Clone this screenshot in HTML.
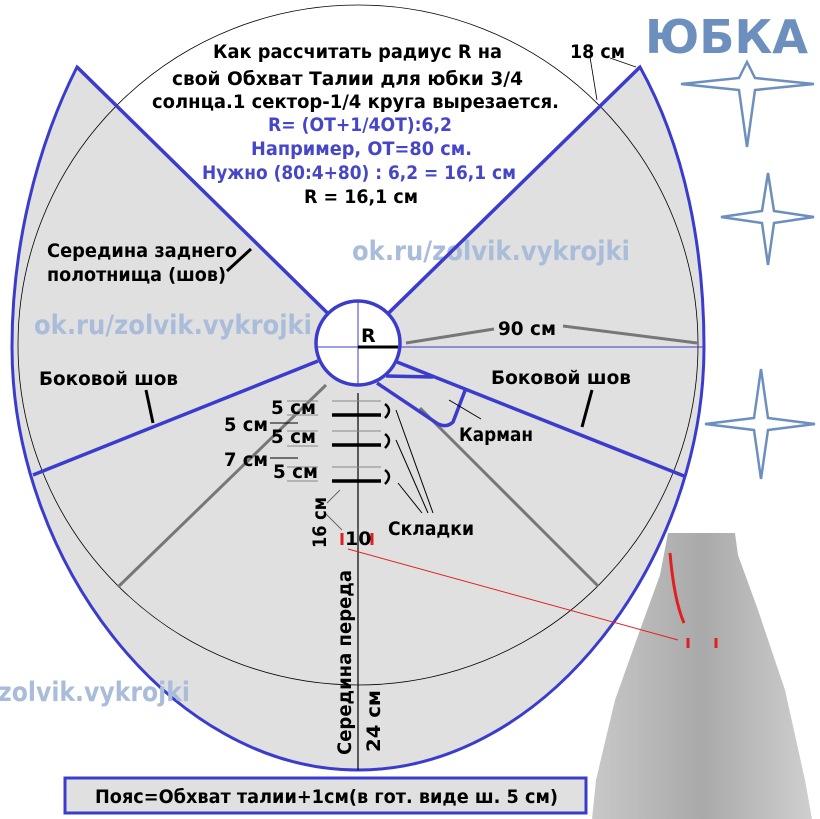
<!DOCTYPE html>
<html><head><meta charset="utf-8"><style>
body{margin:0;background:#fff}
svg{display:block;font-family:"DejaVu Sans","Liberation Sans",sans-serif;font-weight:bold}
</style></head><body>
<svg width="820" height="819" viewBox="0 0 820 819" xmlns="http://www.w3.org/2000/svg">
<defs><linearGradient id="sk" x1="0" x2="1"><stop offset="0" stop-color="#c8c8c8"/><stop offset="0.5" stop-color="#a9a9a9"/><stop offset="1" stop-color="#cfcfcf"/></linearGradient></defs>
<path d="M77,67 C35,150 12,250 12,347 C12,560 170,770 358,770 C546,770 704,560 704,347 C704,250 686,150 640,67 L358,343 Z" fill="#e0e0e0" stroke="#3c3ccc" stroke-width="3"/>
<circle cx="358" cy="345" r="340" fill="none" stroke="#000" stroke-width="0.8"/>
<g fill="#a9bcd9" font-size="27">
<text x="352" y="260" textLength="278" lengthAdjust="spacingAndGlyphs">ok.ru/zolvik.vykrojki</text>
<text x="34" y="334" textLength="278" lengthAdjust="spacingAndGlyphs">ok.ru/zolvik.vykrojki</text>
<text x="-2" y="701" textLength="192" lengthAdjust="spacingAndGlyphs">zolvik.vykrojki</text>
</g>
<g stroke="#777" stroke-width="3">
<line x1="326" y1="385" x2="118" y2="587"/>
<line x1="420" y1="408" x2="598" y2="586"/>
<line x1="406" y1="343" x2="494" y2="329"/>
<line x1="563" y1="326" x2="697" y2="343"/>
</g>
<g stroke="#3c3ccc" stroke-width="3.5" fill="none">
<line x1="358" y1="343" x2="77" y2="67"/>
<line x1="358" y1="343" x2="640" y2="67"/>
<line x1="318" y1="361" x2="33" y2="475"/>
<line x1="397" y1="362" x2="684" y2="476"/>
<path d="M386,376 L433,377 M377,383 L438,424 Q447,428 453,422 L466,388"/>
</g>
<line x1="400" y1="347" x2="704" y2="347" stroke="#3c3ccc" stroke-width="1"/>
<circle cx="358" cy="343" r="42" fill="#fff" stroke="#3c3ccc" stroke-width="3.5"/>
<line x1="316" y1="347" x2="400" y2="347" stroke="#3c3ccc" stroke-width="1"/>
<line x1="358" y1="301" x2="358" y2="385" stroke="#3c3ccc" stroke-width="1"/>
<line x1="358" y1="347" x2="398" y2="347" stroke="#000" stroke-width="3"/>
<line x1="358" y1="393" x2="358" y2="770" stroke="#000" stroke-width="1.2"/>
<g stroke="#888" stroke-width="1">
<line x1="332" y1="401" x2="381" y2="401"/><line x1="332" y1="431" x2="381" y2="431"/><line x1="332" y1="467" x2="381" y2="467"/>
<line x1="287" y1="401" x2="318" y2="401"/><line x1="287" y1="415" x2="318" y2="415"/><line x1="287" y1="431" x2="318" y2="431"/><line x1="287" y1="446" x2="318" y2="446"/><line x1="287" y1="467" x2="318" y2="467"/><line x1="287" y1="481" x2="318" y2="481"/>
</g>
<g stroke="#000" stroke-width="3.5">
<line x1="332" y1="415" x2="381" y2="415"/><line x1="332" y1="445" x2="381" y2="445"/><line x1="332" y1="481" x2="381" y2="481"/>
</g>
<g stroke="#000" stroke-width="1" fill="none">
<path d="M385,404 Q393,410 385,418 M385,434 Q393,440 385,448 M385,470 Q393,476 385,484" stroke-width="2.5"/>
<line x1="396" y1="410" x2="433" y2="513"/><line x1="396" y1="440" x2="428" y2="513"/><line x1="398" y1="483" x2="422" y2="513"/>
<line x1="270" y1="423" x2="298" y2="423"/><line x1="270" y1="458" x2="298" y2="458"/>
<line x1="449" y1="400" x2="481" y2="419"/>
<line x1="227" y1="271" x2="251" y2="249" stroke-width="3"/>
<line x1="146" y1="390" x2="153" y2="423" stroke-width="3"/>
<line x1="592" y1="390" x2="582" y2="427" stroke-width="3"/>
<line x1="340" y1="490" x2="327" y2="503" stroke="#666"/><line x1="326" y1="514" x2="342" y2="530" stroke="#666"/>
<line x1="590" y1="57" x2="597" y2="100" stroke-width="0.8"/><line x1="610" y1="58" x2="636" y2="67" stroke-width="0.8"/>
</g>
<path d="M668,533 L735,533 L738,555 L758,610 L785,690 L805,780 L812,819 L592,819 L596,780 L615,700 L640,630 L660,575 Z" fill="url(#sk)"/>
<path d="M670,553 Q674,600 684,623" stroke="#e02020" stroke-width="3" fill="none"/>
<g stroke="#e02020" stroke-width="3">
<line x1="688" y1="638" x2="688" y2="648"/><line x1="716" y1="638" x2="716" y2="648"/>
<line x1="342" y1="533" x2="342" y2="545"/><line x1="372" y1="533" x2="372" y2="545"/>
</g>
<line x1="348" y1="549" x2="678" y2="640" stroke="#e02020" stroke-width="1"/>
<g fill="none" stroke="#6d8fbe" stroke-width="2.5">
<path d="M747,62 L755,78 L814,84 L755,90 L747,147 L739,90 L681,84 L739,78 Z"/>
<path d="M768,173 L774,211 L814,217 L774,223 L768,265 L762,223 L721,217 L762,211 Z"/>
<path d="M761,369 L768,418 L815,424 L768,430 L761,479 L754,430 L705,424 L754,418 Z"/>
</g>
<text x="645" y="53" font-size="46" fill="#6d8fbe" textLength="163" lengthAdjust="spacingAndGlyphs">ЮБКА</text>
<g font-size="19">
<text x="213" y="58" textLength="289" lengthAdjust="spacingAndGlyphs">Как рассчитать радиус R на</text>
<text x="172" y="85" textLength="351" lengthAdjust="spacingAndGlyphs">свой Обхват Талии для юбки  3/4</text>
<text x="152" y="108" textLength="407" lengthAdjust="spacingAndGlyphs">солнца.1 сектор-1/4 круга вырезается.</text>
<g fill="#4646c8"><text x="268" y="131" textLength="184" lengthAdjust="spacingAndGlyphs">R= (ОТ+1/4ОТ):6,2</text>
<text x="251" y="155" textLength="221" lengthAdjust="spacingAndGlyphs">Например, ОТ=80 см.</text>
<text x="202" y="179" textLength="314" lengthAdjust="spacingAndGlyphs">Нужно (80:4+80) : 6,2 = 16,1 см</text></g>
<text x="304" y="203" textLength="114" lengthAdjust="spacingAndGlyphs">R = 16,1 см</text>
<text x="570" y="58" textLength="55" lengthAdjust="spacingAndGlyphs">18 см</text>
<text x="47" y="257" textLength="190" lengthAdjust="spacingAndGlyphs">Середина заднего</text>
<text x="47" y="281" textLength="179" lengthAdjust="spacingAndGlyphs">полотнища (шов)</text>
<text x="39" y="385" textLength="139" lengthAdjust="spacingAndGlyphs">Боковой шов</text>
<text x="491" y="384" textLength="140" lengthAdjust="spacingAndGlyphs">Боковой шов</text>
<text x="459" y="441" textLength="74" lengthAdjust="spacingAndGlyphs">Карман</text>
<text x="388" y="535" textLength="86" lengthAdjust="spacingAndGlyphs">Складки</text>
<text x="498" y="335" textLength="58" lengthAdjust="spacingAndGlyphs">90 см</text>
<text x="361" y="342">R</text>
<text x="271" y="414" textLength="45" lengthAdjust="spacingAndGlyphs">5 см</text><text x="271" y="443" textLength="45" lengthAdjust="spacingAndGlyphs">5 см</text><text x="273" y="478" textLength="45" lengthAdjust="spacingAndGlyphs">5 см</text>
<text x="224" y="431" textLength="44" lengthAdjust="spacingAndGlyphs">5 см</text><text x="224" y="466" textLength="44" lengthAdjust="spacingAndGlyphs">7 см</text>
<text x="345" y="545">10</text>
<text transform="translate(326,548) rotate(-90)" textLength="51" lengthAdjust="spacingAndGlyphs">16 см</text>
<text transform="translate(351,755) rotate(-90)" textLength="185" lengthAdjust="spacingAndGlyphs">Середина переда</text>
<text transform="translate(380,752) rotate(-90)" textLength="62" lengthAdjust="spacingAndGlyphs">24 см</text>
</g>
<rect x="65" y="778" width="521" height="35" fill="#e0e0e0" stroke="#3c3ccc" stroke-width="3"/>
<text x="95" y="803" font-size="19" textLength="463" lengthAdjust="spacingAndGlyphs">Пояс=Обхват талии+1см(в гот. виде ш. 5 см)</text>
</svg>
</body></html>
